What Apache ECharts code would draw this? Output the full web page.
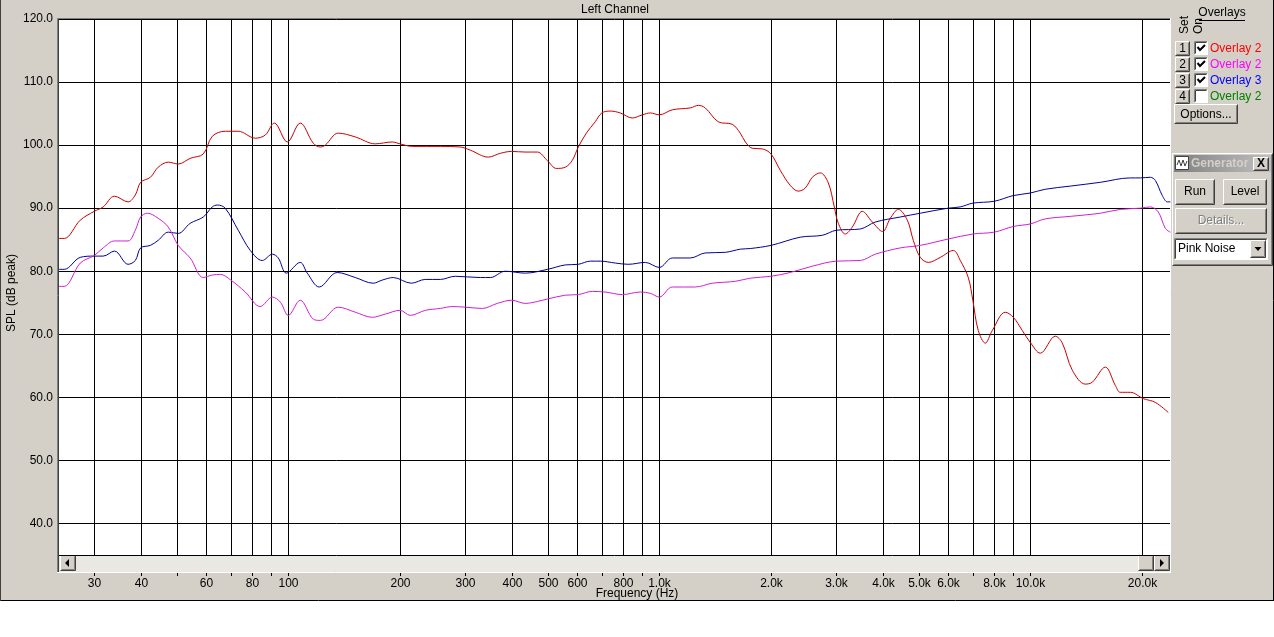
<!DOCTYPE html>
<html><head><meta charset="utf-8">
<script src="https://cdn.jsdelivr.net/npm/echarts@6/dist/echarts.min.js"></script>
<style>html,body{margin:0;padding:0;background:#fff}#c{width:1274px;height:637px}</style>
</head><body><div id="c"></div><script>
// ---- data (frequency in Hz, level in dB) ----
const redHz = [24.1,24.9,27.5,30,31.7,34.0,37.0,38.7,40,42.5,44.6,47.5,50.5,54.4,59.0,62.4,67.6,73.3,81.5,86.7,91.7,99.4,107.7,116.8,122,125.8,136.4,151.6,171.6,190.7,200,215.9,256.9,290.9,309.4,346,372.8,400,435,469,500,528,558,583,605,636,672,700,738,785,846,900,946,1000,1084,1212,1274,1330,1442,1573,1653,1706,1781,1895,2000,2119,2255,2370,2475,2585,2716,2855,2963,3038,3172,3313,3526,3752,4000,4195,4409,4662,4838,5053,5311,5721,6201,6476,6806,7000,7241,7563,7900,8562,9000,9515,10000,10640,11680,12200,12980,14070,14690,15930,16950,17480,18600,20170,21730,23550];
const redDb = [85.2,85.2,88.1,89.5,90.2,91.9,91.0,92.1,94.1,94.9,96.5,97.3,97.0,97.9,98.6,101.4,102.2,102.2,101.1,101.6,103.5,100.5,103.5,100.3,99.7,100.0,101.9,101.3,100.2,100.5,100.2,99.8,99.8,99.7,99.2,98.1,98.7,99.0,98.9,98.9,97.5,96.3,96.5,97.6,99.7,101.9,103.7,105.1,105.4,105.1,104.3,104.8,105.1,104.8,105.6,105.9,106.3,105.9,103.7,103.3,101.9,100.5,99.5,99.4,98.6,96.0,93.6,92.7,93.2,94.9,95.6,94.0,90.2,87.6,85.9,87.0,89.5,87.8,86.3,88.4,89.8,88.1,84.9,82.2,81.4,82.2,83.3,81.7,79.0,75.4,70.6,68.6,70.6,73.5,72.7,70.6,68.7,67.0,69.7,68.6,64.3,62.1,62.4,64.8,61.9,60.8,60.8,59.8,59.2,57.6];

const magentaHz = [24.1,24.9,27.5,30,31.7,34.0,37.0,38.7,40,41.7,44.6,47.5,50.5,54.4,59.0,62.4,65.6,70,76.6,84.0,90.6,95.2,100,107.7,116.8,122,136.4,151.6,168.4,182.6,200,213.2,234,256.9,276.7,300,333.4,365.9,400,435,469,500,558,605,660,715,795,889,946,1000,1084,1250,1389,1603,1759,2000,2255,2585,3000,3483,3821,4463,5053,6000,7000,8000,9000,10000,10970,12820,15440,17480,19800,21060,22130,23120,23850];
const magentaDb = [77.6,77.6,81.3,82.5,83.7,84.8,84.8,86.5,88.6,89.2,88.4,87.0,84.1,82.1,79.0,79.4,79.5,78.6,76.7,74.4,75.9,75.1,73.0,75.4,72.4,72.2,74.3,73.5,72.7,73.2,73.8,73.0,73.8,74.1,74.4,74.3,74.1,74.9,75.4,74.9,75.2,75.6,76.2,76.3,76.8,76.7,76.3,76.7,76.5,75.9,77.5,77.5,78.1,78.4,78.9,79.2,79.8,80.8,81.6,81.7,82.7,83.7,84.1,85.1,85.9,86.2,87.1,87.5,88.3,88.7,89.2,89.8,90.0,90.2,89.4,86.8,86.2];

const blueHz = [24.1,24.9,27.5,30,31.7,34.0,37.0,38.7,40,42.5,44.6,47.5,50.5,54.4,59.0,62.4,64.4,67.6,73.3,79.0,85.1,90.6,94.0,98.8,107.7,112.5,121.2,135.5,151.6,169.5,179.2,191.9,214.6,234,256.9,281.8,329.3,350.3,384.5,435,500,558,605,652,693,761,825,917,1000,1084,1212,1330,1507,1653,1759,2000,2399,2750,3000,3483,3821,4463,5053,6000,6476,7000,8000,9000,10000,10970,12820,15440,18600,19800,21060,21730,22690,23410,23850];
const blueDb = [80.3,80.3,82.2,82.4,82.4,83.2,81.1,81.7,83.7,84.1,84.9,86.2,86.0,87.6,88.6,90.2,90.5,90.0,86.5,83.3,81.7,82.7,82.1,79.7,81.4,79.7,77.5,79.8,79.0,78.1,78.6,79.0,78.1,78.7,78.7,79.2,79.0,79.0,80.0,79.7,80.3,81.0,81.1,81.6,81.6,81.3,81.1,81.4,80.6,82.1,82.1,82.9,83.0,83.5,83.6,84.1,85.4,85.7,86.5,86.7,87.8,88.6,89.2,90.0,90.2,90.8,91.1,92.0,92.4,93.0,93.5,94.1,94.8,94.8,94.9,94.4,92.0,91.0,91.0];

const xGridHz = [30,40,50,60,70,80,90,100,200,300,400,500,600,700,800,900,1000,2000,3000,4000,5000,6000,7000,8000,9000,10000,20000];
const xTickLabels = ['30','40','','60','','80','','100','200','300','400','500','600','','800','','1.0k','2.0k','3.0k','4.0k','5.0k','6.0k','','8.0k','','10.0k','20.0k'];

const overlaySets = ['1','2','3','4'];
const overlayNames = ['Overlay 2','Overlay 2','Overlay 3','Overlay 2'];
const overlayTextColors = ['#ff0000','#ff00ff','#0000ff','#008000'];
const overlayOn = [true,true,true,false];

const lineColors = {red:'#cc0000', magenta:'#d020d0', blue:'#00009c'};

// ---- helpers ----
const FONT = '12px "Liberation Sans", Arial, sans-serif';
const FACE = '#d4d0c8';
function pts(x1,y1,x2,y2,stroke){return {type:'line',silent:true,shape:{x1,y1,x2,y2},style:{stroke,lineWidth:1}};}
function txt(x,y,text,opt){opt=opt||{};return {type:'text',silent:true,x,y:y+1,style:{text,fill:opt.fill||'#000',font:opt.font||FONT,align:opt.align||'left',verticalAlign:opt.valign||'middle'},rotation:opt.rotation||0};}
function raised(x,y,w,h){
  return [
    {type:'rect',silent:true,shape:{x,y,width:w,height:h},style:{fill:FACE}},
    {type:'polyline',silent:true,shape:{points:[[x+0.5,y+h-0.5],[x+0.5,y+0.5],[x+w-0.5,y+0.5]]},style:{stroke:'#ffffff',fill:'none',lineWidth:1}},
    {type:'polyline',silent:true,shape:{points:[[x+0.5,y+h-0.5],[x+w-0.5,y+h-0.5],[x+w-0.5,y+0.5]]},style:{stroke:'#404040',fill:'none',lineWidth:1}},
    {type:'polyline',silent:true,shape:{points:[[x+1.5,y+h-1.5],[x+w-1.5,y+h-1.5],[x+w-1.5,y+1.5]]},style:{stroke:'#808080',fill:'none',lineWidth:1}}
  ];
}
function sunken(x,y,w,h,fill){
  return [
    {type:'rect',silent:true,shape:{x,y,width:w,height:h},style:{fill:fill||'#fff'}},
    {type:'polyline',silent:true,shape:{points:[[x+0.5,y+h-0.5],[x+0.5,y+0.5],[x+w-0.5,y+0.5]]},style:{stroke:'#808080',fill:'none',lineWidth:1}},
    {type:'polyline',silent:true,shape:{points:[[x+1.5,y+h-1.5],[x+1.5,y+1.5],[x+w-1.5,y+1.5]]},style:{stroke:'#404040',fill:'none',lineWidth:1}},
    {type:'polyline',silent:true,shape:{points:[[x+0.5,y+h-0.5],[x+w-0.5,y+h-0.5],[x+w-0.5,y+0.5]]},style:{stroke:'#ffffff',fill:'none',lineWidth:1}}
  ];
}

const g = [];
// outer frame
g.push({type:'rect',silent:true,shape:{x:0,y:601,width:1274,height:36},style:{fill:'#fff'}});
g.push(pts(0,600.5,1274,600.5,'#000'));
g.push(pts(1273.5,0,1273.5,601,'#000'));
g.push(pts(0.5,0,0.5,601,'#404040'));
// sunken border around plot + scrollbar
g.push(pts(57.5,18,57.5,573,'#808080'));
g.push(pts(58.5,18,58.5,573,'#404040'));
g.push(pts(57,18.5,1171,18.5,'#808080'));
g.push(pts(1170.5,18,1170.5,573,'#ffffff'));
g.push(pts(57,572.5,1171,572.5,'#ffffff'));
// scrollbar
g.push({type:'rect',silent:true,shape:{x:59,y:555,width:1111,height:17},style:{fill:'#eae8e3'}});
g.push(...raised(60,555,16,16));
g.push({type:'polygon',silent:true,shape:{points:[[65,563],[69,559],[69,567]]},style:{fill:'#000'}});
g.push(...raised(1138,555,16,16));
g.push(...raised(1154,555,16,16));
g.push({type:'polygon',silent:true,shape:{points:[[1164,563],[1160,559],[1160,567]]},style:{fill:'#000'}});
// titles
g.push(txt(615,9,'Left Channel',{align:'center'}));
g.push(txt(637,593,'Frequency (Hz)',{align:'center'}));
g.push(txt(12,292,'SPL (dB peak)',{align:'center',rotation:Math.PI/2}));
// overlays panel
g.push(txt(1222,12,'Overlays',{align:'center'}));
g.push(pts(1199,20.5,1245,20.5,'#000'));
g.push(txt(1185,33,'Set',{align:'left',rotation:Math.PI/2}));
g.push(txt(1199,33,'On',{align:'left',rotation:Math.PI/2}));
overlaySets.forEach((s,i)=>{
  const cy = 48 + i*16;
  g.push(...raised(1175,cy-7,15,15));
  g.push(txt(1182.5,cy,s,{align:'center'}));
  g.push(...sunken(1194,cy-7,14,14,'#fff'));
  if (overlayOn[i]) g.push({type:'polyline',silent:true,shape:{points:[[1197.5,cy-1],[1200,cy+2],[1205,cy-3]]},style:{stroke:'#000',fill:'none',lineWidth:2}});
  g.push(txt(1210,cy,overlayNames[i],{fill:overlayTextColors[i]}));
});
g.push(...raised(1174,104,64,20));
g.push(txt(1206,114,'Options...',{align:'center'}));
// generator window
g.push(...raised(1172,153,101,113));
g.push({type:'rect',silent:true,shape:{x:1174,y:155,width:97,height:17},style:{fill:new echarts.graphic.LinearGradient(0,0,1,0,[{offset:0,color:'#808080'},{offset:1,color:'#c0c0c0'}])}});
g.push({type:'rect',silent:true,shape:{x:1175.5,y:156.5,width:13,height:13},style:{fill:'#fff',stroke:'#404040',lineWidth:1}});
g.push({type:'polyline',silent:true,shape:{points:[[1177,165],[1179,160],[1181,166],[1183,160],[1185,166],[1187,161]]},style:{stroke:'#404040',fill:'none',lineWidth:1}});
g.push(txt(1191,163,'Generator',{fill:'#d4d0c8',font:'bold 12px "Liberation Sans", Arial, sans-serif'}));
g.push(...raised(1253,157,16,14));
g.push(txt(1261,163,'X',{align:'center',font:'bold 12px "Liberation Sans", Arial, sans-serif'}));
g.push(...raised(1175,179,40,26));
g.push(txt(1195,191,'Run',{align:'center'}));
g.push(...raised(1223,179,44,26));
g.push(txt(1245,191,'Level',{align:'center'}));
g.push(...raised(1175,208,92,26));
g.push(txt(1222,221,'Details...',{align:'center',fill:'#ffffff'}));
g.push(txt(1221,220,'Details...',{align:'center',fill:'#808080'}));
g.push(...sunken(1174,238,94,22,'#fff'));
g.push(txt(1178,248,'Pink Noise'));
g.push(...raised(1250,240,16,18));
g.push({type:'polygon',silent:true,shape:{points:[[1254.5,247],[1261.5,247],[1258,251]]},style:{fill:'#000'}});

function zip(a,b){return a.map((v,i)=>[v,b[i]]);}
function curve(name,hz,db,color){
  return {type:'line',name,data:zip(hz,db),symbol:'none',showSymbol:false,smooth:0.35,
    lineStyle:{color,width:1},itemStyle:{color},z:3,silent:true};
}

const chart = echarts.init(document.getElementById('c'));
chart.setOption({
  animation:false,
  backgroundColor:FACE,
  grid:{left:59,top:19,width:1111,height:536,show:true,backgroundColor:'#ffffff',borderWidth:0,containLabel:false},
  xAxis:{type:'log',min:24.1,max:23800,axisLine:{show:false},axisTick:{show:false},axisLabel:{show:false},splitLine:{show:false},minorTick:{show:false},minorSplitLine:{show:false}},
  yAxis:{type:'value',min:35,max:120,splitNumber:8,
    axisLine:{show:false},axisTick:{show:false},
    axisLabel:{showMinLabel:false,margin:6,color:'#000',fontSize:12,fontFamily:'"Liberation Sans", Arial, sans-serif',padding:[4,0,0,0],formatter:v=>v.toFixed(1)},
    splitLine:{show:true,lineStyle:{color:'#000',width:1}}},
  graphic:{elements:g},
  series:[
    {type:'custom',name:'grid',data:xGridHz.map(f=>[f,35]),clip:false,silent:true,z:1,
     renderItem:function(params,api){
       const f=api.value(0);
       const top=api.coord([f,120]); const bot=api.coord([f,35]);
       const x=Math.round(top[0])+0.5;
       const ch=[
         {type:'line',shape:{x1:x,y1:top[1],x2:x,y2:bot[1]},style:{stroke:'#000',lineWidth:1}},
         {type:'line',shape:{x1:x,y1:bot[1]+18,x2:x,y2:bot[1]+21},style:{stroke:'#000',lineWidth:1}}
       ];
       const lab=xTickLabels[params.dataIndex];
       if(lab) ch.push({type:'text',x:x,y:bot[1]+29,style:{text:lab,fill:'#000',font:FONT,align:'center',verticalAlign:'middle'}});
       return {type:'group',children:ch};
     }},
    curve('Overlay 3',blueHz,blueDb,lineColors.blue),
    curve('Overlay 2 (magenta)',magentaHz,magentaDb,lineColors.magenta),
    curve('Overlay 2 (red)',redHz,redDb,lineColors.red)
  ]
});
</script></body></html>
